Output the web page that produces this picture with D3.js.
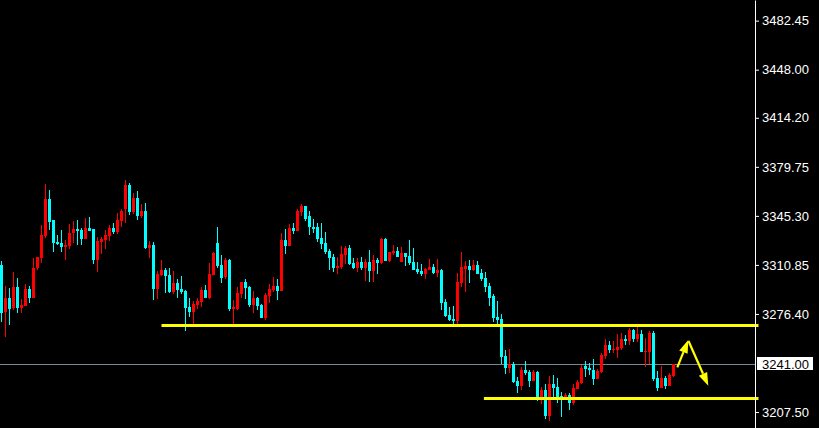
<!DOCTYPE html>
<html><head><meta charset="utf-8">
<script src="https://cdn.jsdelivr.net/npm/d3@7"></script>
<style>html,body{margin:0;padding:0;background:#000;overflow:hidden}</style>
</head><body>
<svg id="c" width="819" height="428"></svg>
<script>
// Candles: open, high, low, close
const open  = [3310.8,3277.6,3287.4,3280.4,3295.1,3280.8,3282.2,3294.0,3287.4,3308.5,
3315.9,3331.4,3357.2,3342.4,3327.0,3326.2,3323.4,3324.1,3333.3,3336.1,
3335.4,3329.1,3336.8,3336.1,3314.3,3327.0,3328.4,3331.2,3336.8,3334.0,
3341.7,3350.1,3367.0,3348.0,3357.9,3345.2,3348.7,3322.7,3324.8,3294.0,
3303.8,3307.3,3303.8,3291.8,3298.2,3294.0,3292.6,3281.3,3277.8,3282.7,
3284.8,3293.3,3287.6,3303.8,3326.2,3310.8,3302.4,3314.3,3279.9,3279.9,
3290.4,3298.9,3295.4,3282.7,3287.6,3282.7,3273.6,3289.0,3293.3,3296.1,
3292.6,3328.4,3324.1,3336.8,3334.7,3348.0,3352.3,3345.2,3337.5,3337.5,
3329.8,3326.2,3320.6,3316.4,3308.7,3309.4,3317.8,3322.7,3312.2,3308.7,
3312.9,3308.7,3312.9,3306.6,3314.3,3312.2,3329.1,3313.6,3319.2,3320.6,
3312.9,3319.2,3317.1,3312.9,3308.0,3306.6,3304.5,3307.3,3309.4,3305.2,
3307.3,3284.8,3275.7,3272.9,3271.5,3298.2,3308.0,3310.1,3307.3,3310.8,
3305.2,3301.7,3296.1,3289.0,3274.3,3272.9,3247.0,3238.6,3241.4,3229.5,
3226.0,3237.2,3235.8,3229.5,3235.8,3218.3,3223.2,3205.0,3227.4,3225.3,
3219.0,3217.6,3219.7,3214.1,3223.9,3228.1,3240.0,3238.6,3237.2,3230.9,
3235.8,3247.0,3254.8,3251.2,3251.2,3252.6,3259.0,3257.6,3265.2,3259.0,
3262.4,3249.8,3249.8,3263.1,3231.6,3224.6,3231.6,3226.0,3233.0];
const high  = [3313.6,3296.1,3294.5,3306.1,3301.7,3286.7,3297.5,3296.1,3315.5,3316.2,
3338.9,3367.7,3363.5,3342.4,3331.9,3335.4,3328.4,3339.6,3341.7,3342.4,
3336.8,3343.8,3344.5,3336.1,3330.5,3330.5,3335.4,3338.9,3340.3,3347.3,
3350.1,3370.5,3368.4,3361.4,3362.8,3353.7,3354.4,3327.7,3327.0,3306.6,
3314.3,3308.7,3308.7,3306.6,3301.0,3303.1,3293.3,3287.6,3285.5,3287.6,
3295.4,3296.8,3312.2,3319.9,3337.5,3317.8,3315.7,3315.0,3286.2,3295.4,
3298.9,3301.0,3296.1,3292.6,3288.3,3283.4,3291.1,3297.5,3302.4,3301.0,
3333.3,3336.1,3339.6,3340.3,3350.1,3353.7,3352.3,3348.7,3343.1,3340.3,
3340.3,3334.0,3322.0,3318.5,3316.4,3324.1,3324.1,3324.8,3315.7,3315.7,
3316.4,3315.0,3321.3,3317.8,3315.7,3329.8,3329.8,3319.9,3324.8,3323.4,
3323.4,3319.2,3328.4,3322.7,3312.9,3311.5,3308.7,3315.0,3311.5,3315.0,
3308.0,3286.9,3281.3,3282.0,3305.2,3319.9,3313.6,3314.3,3314.3,3313.6,
3308.0,3305.9,3298.2,3290.4,3285.5,3276.4,3251.2,3251.9,3242.8,3232.3,
3239.3,3243.5,3237.2,3237.2,3236.5,3225.3,3227.4,3233.0,3233.7,3231.6,
3221.8,3221.1,3221.1,3227.4,3230.2,3240.7,3243.5,3242.1,3244.9,3237.9,
3249.1,3259.0,3257.6,3257.6,3262.4,3263.1,3261.7,3266.6,3265.9,3267.3,
3265.2,3259.7,3264.5,3264.5,3236.5,3240.0,3233.0,3235.1,3241.4];
const low   = [3271.0,3260.0,3268.6,3279.2,3276.9,3276.9,3282.2,3283.9,3287.4,3307.3,
3312.4,3330.0,3335.4,3320.1,3324.8,3320.1,3314.3,3322.0,3326.2,3324.8,
3324.8,3329.1,3334.7,3311.5,3305.9,3318.5,3322.0,3327.7,3332.6,3332.6,
3337.5,3340.3,3345.9,3346.6,3342.4,3343.8,3322.0,3315.7,3286.2,3286.9,
3303.1,3291.1,3291.1,3290.4,3287.6,3290.4,3264.5,3274.3,3268.7,3279.9,
3281.3,3287.6,3286.9,3303.8,3308.7,3298.2,3301.0,3278.5,3268.7,3279.2,
3287.6,3286.9,3281.3,3277.1,3279.2,3273.6,3272.2,3284.1,3291.8,3286.2,
3292.6,3318.5,3324.1,3332.6,3334.7,3345.2,3341.7,3331.9,3333.3,3327.0,
3322.0,3318.5,3307.3,3305.9,3304.5,3308.0,3311.5,3310.8,3308.0,3305.9,
3307.3,3299.6,3298.9,3298.9,3304.5,3311.5,3313.6,3312.9,3317.8,3316.4,
3312.9,3310.1,3310.8,3307.3,3304.5,3303.1,3301.0,3307.3,3304.5,3302.4,
3279.2,3274.3,3271.5,3269.4,3269.4,3295.4,3291.8,3298.2,3306.6,3304.5,
3299.6,3291.8,3282.0,3270.8,3269.4,3241.4,3234.4,3235.1,3228.1,3221.1,
3223.2,3233.7,3225.3,3229.5,3215.5,3213.4,3202.9,3201.5,3218.3,3214.1,
3204.3,3216.2,3209.2,3212.7,3223.9,3227.4,3232.3,3233.7,3226.7,3230.9,
3235.1,3244.9,3249.1,3249.1,3245.6,3251.2,3254.8,3254.8,3256.9,3256.9,
3249.8,3239.3,3241.4,3229.5,3222.5,3224.6,3223.9,3226.0,3232.3];
const close = [3277.4,3287.4,3279.9,3295.1,3280.4,3282.7,3294.0,3287.4,3308.5,3316.2,
3331.9,3357.2,3341.2,3326.5,3325.5,3323.4,3324.8,3333.3,3336.1,3334.7,
3329.1,3336.8,3334.7,3314.3,3327.7,3329.1,3331.9,3336.8,3334.0,3342.4,
3348.7,3367.0,3348.0,3357.9,3345.2,3348.7,3322.7,3324.8,3294.0,3304.5,
3307.3,3303.1,3291.8,3298.2,3293.3,3291.8,3280.6,3277.8,3283.4,3285.5,
3293.3,3287.6,3304.5,3319.2,3310.1,3301.7,3314.3,3279.9,3281.3,3291.1,
3298.9,3294.7,3282.7,3287.6,3282.0,3273.6,3289.7,3294.0,3296.1,3292.6,
3328.4,3324.1,3336.8,3334.7,3348.7,3352.3,3343.1,3337.5,3336.1,3329.1,
3325.5,3319.9,3315.7,3308.7,3310.1,3318.5,3322.7,3311.5,3308.7,3312.9,
3308.7,3312.9,3306.6,3314.3,3312.2,3329.1,3313.6,3319.9,3320.6,3316.4,
3319.2,3316.4,3312.2,3307.3,3305.9,3304.5,3308.0,3309.4,3305.2,3307.3,
3284.1,3275.0,3272.2,3271.5,3298.9,3309.4,3310.1,3307.3,3310.8,3304.5,
3301.0,3295.4,3287.6,3273.6,3272.2,3246.3,3238.6,3241.4,3228.8,3226.0,
3237.2,3235.1,3229.5,3235.8,3218.3,3223.2,3205.0,3227.4,3224.6,3216.9,
3217.6,3219.7,3214.1,3224.6,3228.8,3238.6,3237.9,3237.2,3230.9,3236.5,
3247.7,3254.8,3251.2,3251.9,3253.3,3259.0,3257.6,3265.2,3259.0,3262.4,
3249.8,3250.5,3263.1,3230.9,3224.6,3231.6,3226.0,3233.7,3241.0];

const priceTicks = ["3482.45","3448.00","3414.20","3379.75","3345.30","3310.85","3276.40","3207.50"];
const bidPrice = 3241.00;
const levelPrices = [3268.3, 3217.5];      // yellow horizontal lines
const levelStartBar = [40, 120.6];          // bar index where each line starts
const arrowFrom = [[168.95, 3238.9], [171.75, 3257.4]];
const arrowTo   = [[171.7, 3258.1], [176.7, 3226.0]];

const W = 819, H = 428, axisX = 755;
const svg = d3.select("#c");
svg.append("rect").attr("width", W).attr("height", H).attr("fill", "#000");

const bars = d3.range(open.length);
const x = d3.scaleLinear().domain([0, bars.length - 1]).range([1.5, 1.5 + 4 * (bars.length - 1)]);
const y = d3.scaleLinear().domain([3196.28, 3496.95]).range([H, 0]);

// bid line
const by = Math.round(y(bidPrice)) + 0.5;
svg.append("line").attr("x1", 0).attr("x2", axisX).attr("y1", by).attr("y2", by)
  .attr("stroke", "#778899").attr("stroke-width", 1);

// candles
const g = svg.append("g").attr("shape-rendering", "crispEdges");
const col = i => close[i] >= open[i] ? "#ff0000" : "#00ffff";
g.selectAll("rect.w").data(bars).join("rect").attr("class", "w")
  .attr("x", i => x(i) - 0.5).attr("width", 1)
  .attr("y", i => Math.round(y(high[i])))
  .attr("height", i => Math.max(1, Math.round(y(low[i])) - Math.round(y(high[i]))))
  .attr("fill", col);
g.selectAll("rect.b").data(bars).join("rect").attr("class", "b")
  .attr("x", i => x(i) - 1.5).attr("width", 3)
  .attr("y", i => Math.round(y(Math.max(open[i], close[i]))))
  .attr("height", i => Math.max(1, Math.round(y(Math.min(open[i], close[i]))) - Math.round(y(Math.max(open[i], close[i])))))
  .attr("fill", col);

// yellow level lines
levelPrices.forEach((p, k) => {
  const ly = Math.round(y(p)) + 0.5;
  svg.append("line").attr("x1", x(levelStartBar[k])).attr("x2", axisX + 3.5)
    .attr("y1", ly).attr("y2", ly).attr("stroke", "#ffff00").attr("stroke-width", 3);
});

// yellow arrows
arrowFrom.forEach((a, k) => {
  const b = arrowTo[k];
  const x1 = x(a[0]), y1 = y(a[1]), x2 = x(b[0]), y2 = y(b[1]);
  const ang = Math.atan2(y2 - y1, x2 - x1);
  const L = 13, hw = 4.5;
  const bx = x2 - L * Math.cos(ang), byy = y2 - L * Math.sin(ang);
  svg.append("line").attr("x1", x1).attr("y1", y1).attr("x2", bx).attr("y2", byy)
    .attr("stroke", "#ffff00").attr("stroke-width", 2.2);
  const pts = [[x2, y2],
    [bx + hw * Math.sin(ang), byy - hw * Math.cos(ang)],
    [bx - hw * Math.sin(ang), byy + hw * Math.cos(ang)]];
  svg.append("path").attr("d", "M" + pts.map(p => p.join(",")).join("L") + "Z").attr("fill", "#ffff00");
});

// right price axis
const axis = d3.axisRight(y).tickValues(priceTicks.map(Number))
  .tickFormat((d, i) => priceTicks[i]).tickSize(4).tickSizeOuter(0).tickPadding(3);
const ag = svg.append("g").attr("transform", `translate(${axisX},0)`).call(axis);
ag.select(".domain").attr("stroke", "#ffffff");
ag.selectAll(".tick line").attr("stroke", "#ffffff");
ag.selectAll(".tick text").attr("fill", "#ffffff")
  .style("font-family", "'Liberation Sans', Arial, sans-serif").style("font-size", "13px");

// bid price label
const ly = y(bidPrice);
svg.append("rect").attr("x", 757).attr("y", Math.round(ly) - 7).attr("width", 56).attr("height", 13)
  .attr("fill", "#ffffff");
svg.append("text").attr("x", 762).attr("y", ly).attr("dy", "0.36em").text(bidPrice.toFixed(2))
  .attr("fill", "#000").style("font-family", "'Liberation Sans', Arial, sans-serif").style("font-size", "13px");
</script>
</body></html>
